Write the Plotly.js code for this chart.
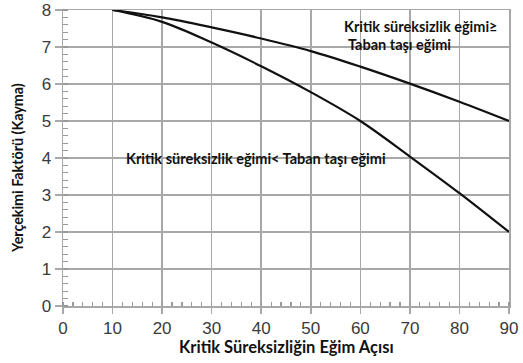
<!DOCTYPE html>
<html>
<head>
<meta charset="utf-8">
<script src="https://cdn.plot.ly/plotly-3.0.1.min.js"></script>
<style>html,body{margin:0;padding:0;background:#fff;}#chart{width:523px;height:363px;}</style>
</head>
<body>
<div id="chart"></div>
<script>
const angles = [10, 20, 30, 40, 50, 60, 70, 80, 90];
const upperFactor = [8.0, 7.8, 7.53, 7.23, 6.89, 6.47, 6.01, 5.52, 5.0];
const lowerFactor = [8.0, 7.68, 7.12, 6.48, 5.78, 5.0, 4.04, 3.05, 2.0];
const xTicks = [0, 10, 20, 30, 40, 50, 60, 70, 80, 90];
const yTicks = [0, 1, 2, 3, 4, 5, 6, 7, 8];
const xTitle = "Kritik Süreksizliğin Eğim Açısı";
const yTitle = "Yerçekimi Faktörü (Kayma)";
const noteUpper1 = "Kritik süreksizlik eğimi≥";
const noteUpper2 = "Taban taşı eğimi";
const noteLower = "Kritik süreksizlik eğimi< Taban taşı eğimi";

const lineStyle = {color: '#111', width: 2.2, shape: 'spline', smoothing: 1};
const traces = [
  {x: angles, y: upperFactor, mode: 'lines', line: lineStyle, hoverinfo: 'skip'},
  {x: angles, y: lowerFactor, mode: 'lines', line: lineStyle, hoverinfo: 'skip'}
];
const gridCol = '#a8a8a8';
const tickFont = {family: 'Arial, Liberation Sans, sans-serif', size: 17, color: '#3a3a3a'};
const noteFont = {family: 'Lato, sans-serif', size: 14.5, color: '#111', weight: 'bold'};

const L = 63, R = 14, T = 10, B = 57, W = 523, H = 363;
const pw = W - L - R, ph = H - T - B;
const px = v => (v - L) / pw;
const py = v => 1 - (v - T) / ph;

const layout = {
  width: W, height: H,
  margin: {l: L, r: R, t: T, b: B},
  paper_bgcolor: '#fff', plot_bgcolor: '#fff',
  showlegend: false,
  xaxis: {
    range: [0, 90], tickvals: xTicks, ticktext: xTicks.map(String),
    showgrid: true, gridcolor: gridCol, gridwidth: 1.5,
    showline: true, linecolor: gridCol, linewidth: 1.5, mirror: true,
    ticks: 'outside', ticklen: 6, tickcolor: gridCol, tickwidth: 1.5,
    minor: {ticks: 'inside', dtick: 2, ticklen: 4, tickcolor: '#999', tickwidth: 1.2, showgrid: false},
    zeroline: false, tickfont: tickFont
  },
  yaxis: {
    range: [0, 8], tickvals: yTicks, ticktext: yTicks.map(String),
    showgrid: true, gridcolor: gridCol, gridwidth: 1.5,
    showline: true, linecolor: gridCol, linewidth: 1.5, mirror: true,
    ticks: 'outside', ticklen: 7, tickcolor: gridCol, tickwidth: 1.5,
    minor: {ticks: 'inside', dtick: 0.2, ticklen: 5, tickcolor: '#999', tickwidth: 1.2, showgrid: false},
    zeroline: false, tickfont: tickFont
  },
  shapes: [
    {type: 'rect', xref: 'paper', yref: 'paper', x0: px(338), x1: px(458), y0: py(53), y1: py(18), fillcolor: '#fff', line: {width: 0}, layer: 'between'},
    {type: 'rect', xref: 'paper', yref: 'paper', x0: px(117), x1: px(393), y0: py(171), y1: py(143), fillcolor: '#fff', line: {width: 0}, layer: 'between'}
  ],
  annotations: [
    {x: px(343), y: py(26), text: noteUpper1, font: noteFont, xanchor: 'left', yanchor: 'middle'},
    {x: px(347), y: py(45), text: noteUpper2, font: noteFont, xanchor: 'left', yanchor: 'middle'},
    {x: px(256), y: py(158), text: noteLower, font: noteFont, xanchor: 'center', yanchor: 'middle'},
    {x: px(286), y: py(347), text: xTitle, font: {family: 'Lato, sans-serif', size: 16.5, color: '#111', weight: 'bold'}, xanchor: 'center', yanchor: 'middle'},
    {x: px(17), y: py(168), text: yTitle, textangle: -90, font: {family: 'Lato, sans-serif', size: 14.3, color: '#111', weight: 'bold'}, xanchor: 'center', yanchor: 'middle'}
  ].map(a => Object.assign({xref: 'paper', yref: 'paper', showarrow: false, borderpad: 0}, a))
};

Plotly.newPlot('chart', traces, layout, {staticPlot: true, displayModeBar: false});
</script>
</body>
</html>
